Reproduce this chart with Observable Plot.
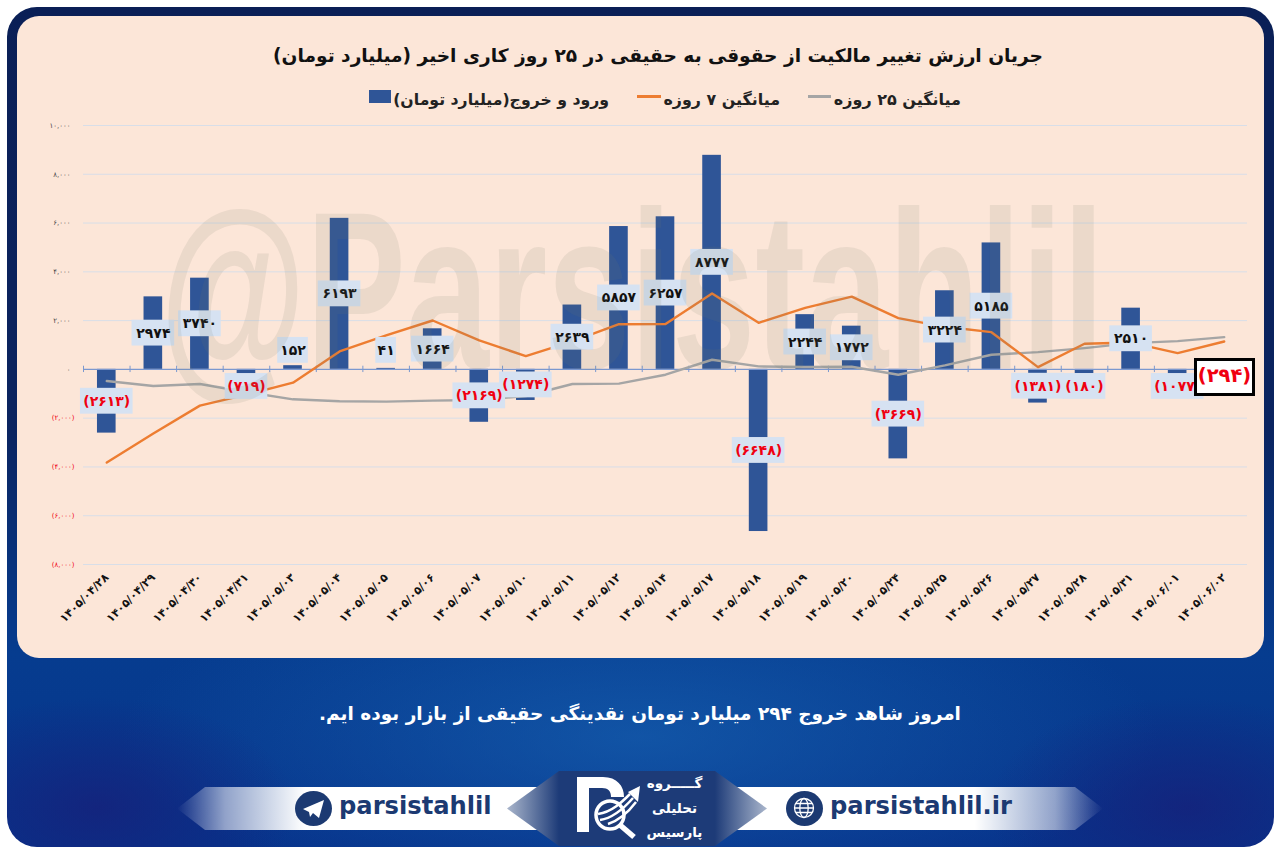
<!DOCTYPE html>
<html lang="fa">
<head>
<meta charset="utf-8">
<script src="https://cdn.jsdelivr.net/npm/d3@7"></script>
<script src="https://cdn.jsdelivr.net/npm/@observablehq/plot@0.6"></script>
<style>
html,body{margin:0;padding:0;background:#fff;width:1280px;height:858px;overflow:hidden}
*{box-sizing:border-box}
#page{position:relative;width:1280px;height:858px;overflow:hidden;font-family:"DejaVu Sans",sans-serif}
#frame{position:absolute;left:7px;top:7px;width:1267px;height:840px;border-radius:30px;
 background:
  radial-gradient(ellipse 200px 110px at 90px 800px,rgba(24,30,120,.7) 0%,rgba(24,30,120,0) 100%),
  radial-gradient(ellipse 200px 110px at 1180px 800px,rgba(24,30,120,.7) 0%,rgba(24,30,120,0) 100%),
  radial-gradient(ellipse 520px 170px at 633px 730px,rgba(22,96,176,.7) 0%,rgba(22,96,176,0) 100%),
  linear-gradient(180deg,#0a1f56 0%,#0a2460 50%,#063c8f 77%,#07338b 100%)}
#panel{position:absolute;left:17px;top:16px;width:1247px;height:642px;border-radius:22px;background:#fce6d8}
#plot{position:absolute;left:0;top:0}
#plot svg{background:transparent!important;display:block}
.abs{position:absolute;white-space:nowrap}
#title{right:237px;top:45px;direction:rtl;font-weight:700;font-size:18.6px;color:#111}
.leg{top:90px;direction:rtl;font-weight:700;color:#222}
.sw{position:absolute}
#wm{left:160px;top:178px;font-family:"Liberation Sans",sans-serif;font-weight:700;font-size:225px;color:rgba(118,120,108,.12);pointer-events:none;line-height:1;transform:scaleX(.665);transform-origin:0 0}
#box294{left:1194px;top:358px;width:61px;height:38px;border:3px solid #000;background:#fff;color:#f00010;font-weight:700;font-size:19.5px;text-align:center;line-height:30px}
#caption{left:0;width:1280px;top:703px;text-align:center;direction:rtl;color:#fff;font-weight:700;font-size:18.5px}
.band{top:787px;height:43px}
#bl{left:177px;width:400px;background:linear-gradient(90deg,rgba(255,255,255,0) 0%,rgba(255,255,255,.55) 12%,#fff 32%,#fff 100%);clip-path:polygon(0 50%,7% 0,100% 0,100% 100%,7% 100%)}
#br{left:703px;width:400px;background:linear-gradient(270deg,rgba(255,255,255,0) 0%,rgba(255,255,255,.55) 12%,#fff 32%,#fff 100%);clip-path:polygon(100% 50%,93% 0,0 0,0 100%,93% 100%)}
#hex{left:507px;top:771px;width:260px;height:75px;background:linear-gradient(90deg,#aab6cc 0%,#1d3b78 20%,#1d3b78 80%,#aab6cc 100%);clip-path:polygon(20% 0,80% 0,100% 50%,80% 100%,20% 100%,0 50%)}
.site{top:790px;font-family:"DejaVu Sans",sans-serif;font-weight:700;font-size:24.2px;color:#1c3a72;line-height:32px}
#grp{left:646px;top:771px;width:57px;direction:rtl;text-align:center;color:#fff;font-weight:700;font-size:13.5px;line-height:24.5px}
</style>
</head>
<body>
<div id="page">
  <div id="frame"></div>
  <div id="panel"></div>
  <div id="plot" class="abs"></div>
  <div id="title" class="abs">جریان ارزش تغییر مالکیت از حقوقی به حقیقی در ۲۵ روز کاری اخیر (میلیارد تومان)</div>
  <div class="abs leg" style="right:319px;font-size:16px">میانگین ۲۵ روزه</div>
  <div class="sw" style="left:808px;top:95px;width:23px;height:3px;background:#a5a5a5"></div>
  <div class="abs leg" style="right:500px;font-size:15.9px">میانگین ۷ روزه</div>
  <div class="sw" style="left:637px;top:95px;width:24px;height:3px;background:#ed7d31"></div>
  <div class="abs leg" style="right:671px;font-size:15.7px">ورود و خروج(میلیارد تومان)</div>
  <div class="sw" style="left:369px;top:90px;width:22px;height:13px;background:#2f5597"></div>
  <div id="wm" class="abs">@Parsistahlil</div>
  <div id="box294" class="abs">(۲۹۴)</div>
  <div id="caption" class="abs">امروز شاهد خروج ۲۹۴ میلیارد تومان نقدینگی حقیقی از بازار بوده ایم.</div>
  <div id="bl" class="abs band"></div>
  <div id="br" class="abs band"></div>
  <div id="hex" class="abs"></div>
  <svg class="abs" style="left:295px;top:791px" width="37" height="35" viewBox="0 0 37 35"><ellipse cx="18.5" cy="17.5" rx="18.5" ry="17.5" fill="#1c3a72"/><path d="M8 18 L29 9 L24 27 L18 22 L15 26 L14 21 Z" fill="#fff"/></svg>
  <div class="abs site" style="left:339px">parsistahlil</div>
  <svg class="abs" style="left:786px;top:791px" width="37" height="35" viewBox="0 0 37 35" fill="none" stroke="#fff" stroke-width="1.3"><ellipse cx="18.5" cy="17.5" rx="18.5" ry="17.5" fill="#1c3a72" stroke="none"/><circle cx="18" cy="17" r="9.5"/><ellipse cx="18" cy="17" rx="4.2" ry="9.5"/><path d="M8.5 17H27.5M10 12.5H26M10 21.5H26"/></svg>
  <div class="abs site" style="left:830px">parsistahlil.ir</div>
  <svg class="abs" style="left:570px;top:770px" width="78" height="72" viewBox="0 0 78 72">
    <path d="M7 7H33C47 7 54 16 54 27H41C41 21 38 18 32 18H19V62H7Z" fill="#fff"/>
    <circle cx="40" cy="45" r="14" fill="#1d3b78" stroke="#fff" stroke-width="3.5"/>
    <path d="M50 55L64 67" stroke="#fff" stroke-width="5.5"/>
    <path d="M30 50C44 48 56 36 63 28M38 54C50 50 60 40 66 32M28 44C42 42 52 32 60 24" fill="none" stroke="#fff" stroke-width="2.5"/>
    <path d="M70 16L68 32L58 22Z" fill="#fff"/>
  </svg>
  <div id="grp" class="abs">گـــــروه<br>تحلیلی<br>پارسیس</div>
</div>
<script>
const dates = ["۱۴۰۵/۰۴/۲۸","۱۴۰۵/۰۴/۲۹","۱۴۰۵/۰۴/۳۰","۱۴۰۵/۰۴/۳۱","۱۴۰۵/۰۵/۰۳","۱۴۰۵/۰۵/۰۴","۱۴۰۵/۰۵/۰۵","۱۴۰۵/۰۵/۰۶","۱۴۰۵/۰۵/۰۷","۱۴۰۵/۰۵/۱۰","۱۴۰۵/۰۵/۱۱","۱۴۰۵/۰۵/۱۲","۱۴۰۵/۰۵/۱۴","۱۴۰۵/۰۵/۱۷","۱۴۰۵/۰۵/۱۸","۱۴۰۵/۰۵/۱۹","۱۴۰۵/۰۵/۲۰","۱۴۰۵/۰۵/۲۴","۱۴۰۵/۰۵/۲۵","۱۴۰۵/۰۵/۲۶","۱۴۰۵/۰۵/۲۷","۱۴۰۵/۰۵/۲۸","۱۴۰۵/۰۵/۳۱","۱۴۰۵/۰۶/۰۱","۱۴۰۵/۰۶/۰۲"];
const flow = [-2613,2974,3740,-719,152,6193,41,1664,-2169,-1274,2639,5857,6257,8777,-6648,2244,1772,-3669,3224,5185,-1381,-180,2510,-1077,-294];
const avg7 = [-3818,-2632,-1486,-1036,-545,736,1390,2004,1186,544,1145,1853,1860,3108,1910,2523,2985,2100,1746,1526,94,1050,1100,667,1145];
const avg25 = [-478,-682,-600,-928,-1227,-1309,-1322,-1282,-1255,-1091,-600,-585,-218,395,123,95,109,-218,163,600,709,872,1076,1160,1321];
const yTicks = [10000,8000,6000,4000,2000,0,-2000,-4000,-6000,-8000];

const fa = s => String(s).replace(/\d/g, d => "۰۱۲۳۴۵۶۷۸۹"[d]);
const rows = dates.map((date,i)=>({date,flow:flow[i],avg7:avg7[i],avg25:avg25[i],
  label: flow[i]<0 ? `(${fa(-flow[i])})` : fa(flow[i])}));
// labels sit at the middle of each bar, except where the chart's author moved them clear of a short bar
const moved = {"۱۴۰۵/۰۴/۳۱":-700,"۱۴۰۵/۰۵/۰۳":780,"۱۴۰۵/۰۵/۰۵":780,"۱۴۰۵/۰۵/۲۸":-700,"۱۴۰۵/۰۶/۰۱":-700};
const labelY = d => moved[d.date] ?? d.flow/2;
const labelled = rows.slice(0,-1);
const halfH = 530;
const inset = d => { const n=d.label.length; return n>=6?-17:n==5?-12:n==4?-12:n==3?-6:-1; };
const yFmt = v => v===0 ? "۰" : (v<0?`(${fa(d3.format(",")(-v))})`:fa(d3.format(",")(v)));
const step = 1164/25;

const chart = Plot.plot({
  width:1280,height:858,marginLeft:83,marginRight:33,marginTop:125,marginBottom:294,
  style:{background:"transparent",fontFamily:"DejaVu Sans"},
  x:{type:"band",domain:dates,paddingInner:.6,paddingOuter:.3,round:false,label:null},
  y:{domain:[-8000,10000],label:null},
  marks:[
    Plot.ruleY(yTicks.filter(v=>v!==0),{stroke:"#d8dee8",strokeWidth:1}),
    Plot.barY(rows,{x:"date",y:"flow",fill:"#2f5597"}),
    Plot.ruleY([0],{stroke:"#7b98cf",strokeWidth:1.4}),
    Plot.ruleX(dates,{x:d=>d,y1:-130,y2:130,dx:-step/2,stroke:"#7b98cf"}),
    Plot.ruleX(dates.slice(-1),{x:d=>d,y1:-130,y2:130,dx:step/2,stroke:"#7b98cf"}),
    Plot.line(rows,{x:"date",y:"avg25",stroke:"#a5a5a5",strokeWidth:2.4,curve:"linear"}),
    Plot.line(rows,{x:"date",y:"avg7",stroke:"#ed7d31",strokeWidth:2.4,curve:"linear"}),
    ...labelled.map(d=>Plot.barY([d],{x:"date",y1:e=>labelY(e)-halfH,y2:e=>labelY(e)+halfH,fill:"#d6e2f2",insetLeft:inset(d),insetRight:inset(d)})),
    ...labelled.map(d=>Plot.text([d],{x:"date",y:labelY,text:"label",fill:d.flow<0?"#f00010":"#111",fontSize:14,fontWeight:700,stroke:"none"})),
    Plot.axisY(yTicks.filter(v=>v>=0),{anchor:"left",tickSize:0,tickPadding:13,fontSize:7,tickFormat:yFmt,fill:"#444",label:null}),
    Plot.axisY(yTicks.filter(v=>v<0),{anchor:"left",tickSize:0,tickPadding:9,fontSize:7,tickFormat:yFmt,fill:"#f00010",label:null}),
    Plot.axisX(dates,{anchor:"bottom",tickSize:0,tickPadding:11,tickRotate:-45,fontSize:11.3,fontWeight:700,fill:"#111",label:null})
  ]
});
document.getElementById("plot").appendChild(chart);
</script>
</body>
</html>
